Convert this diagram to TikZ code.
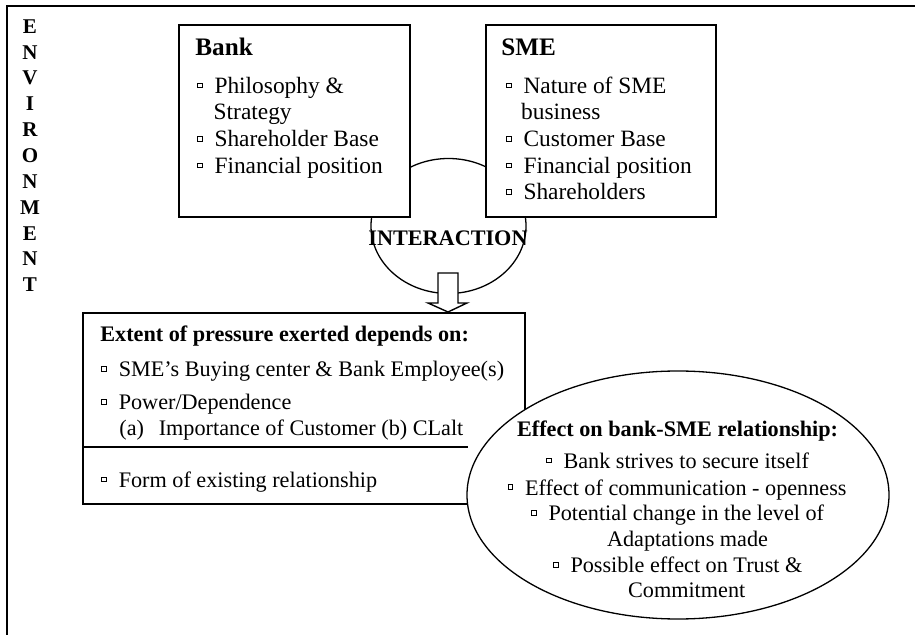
\documentclass[tikz,border=0pt]{standalone}
\usepackage{fontspec}
\setmainfont{Liberation Serif}
\usetikzlibrary{shapes.geometric,fit}
\newcommand\sqbul{\raisebox{3pt}{\fboxsep=0pt\fboxrule=0.4pt\fbox{\rule{0pt}{1.9pt}\hspace{1.9pt}}}\hspace{6pt}}
\begin{document}
\begin{tikzpicture}[x=0.5pt,y=-0.5pt,
  box/.style={draw, line width=0.9pt, fill=white, inner sep=0pt},
  oval/.style={draw, ellipse, line width=0.65pt, inner sep=0pt},
  txt/.style={anchor=base west, inner sep=0pt, font=\fontsize{11.7}{13.5}\selectfont},
  ltxt/.style={anchor=base west, inner sep=0pt, font=\fontsize{11.1}{13}\selectfont},
  lbold/.style={anchor=base west, inner sep=0pt, font=\fontsize{11.1}{13}\selectfont\bfseries},
  ttl/.style={anchor=base west, inner sep=0pt, font=\fontsize{12.6}{14}\selectfont\bfseries},
  envl/.style={anchor=base, inner sep=0pt, font=\fontsize{10.5}{12}\selectfont\bfseries}]
\useasboundingbox (0,0) rectangle (915,635);
% frame
\draw[line width=1pt] (7,650) -- (7,6) -- (930,6);
% ENVIRONMENT
\foreach \l [count=\i from 0] in {E,N,V,I,R,O,N,M,E,N,T}
  \node[envl] (env\i) at (30,33.3+25.84*\i) {\l};
% interaction oval
\node[oval, minimum width=77.5pt, minimum height=67.5pt] (inter) at (448.5,226) {};
% top boxes
\node[box, fit={(179,25) (410,217)}] (bank) {};
\node[box, fit={(486,25) (716,217)}] (sme) {};
\node[lbold, anchor=base] (intertxt) at (448,246) {INTERACTION};
% block arrow
\draw[line width=0.7pt, fill=white] (438,273) -- (458,273) -- (458,303) -- (467,303) -- (448,312) -- (428,303) -- (438,303) -- cycle;
% extent box
\node[box, fit={(83,313) (525,504)}] (extent) {};
\draw[line width=0.9pt] (extent.west |- 0,447) -- (468,447);
% effect oval
\node[oval, fill=white, minimum width=211pt, minimum height=124pt] (effect) at (678,495) {};
% Bank text
\node[ttl] (bankt) at (195,56) {Bank};
\node[txt] (b1) at (196.7,93.3) {\sqbul Philosophy \&};
\node[txt] (b1b) at (213.3,120) {Strategy};
\node[txt] (b2) at (196.7,146.7) {\sqbul Shareholder Base};
\node[txt] (b3) at (196.7,173.3) {\sqbul Financial position};
% SME text
\node[ttl] (smet) at (501,56) {SME};
\node[txt] (s1) at (505.7,93.3) {\sqbul Nature of SME};
\node[txt] (s1b) at (520.7,120) {business};
\node[txt] (s2) at (505.7,146.7) {\sqbul Customer Base};
\node[txt] (s3) at (505.7,173.3) {\sqbul Financial position};
\node[txt] (s4) at (505.7,200) {\sqbul Shareholders};
% extent text
\node[lbold] (et) at (100,342) {Extent of pressure exerted depends on:};
\node[ltxt] (e1) at (101,376.7) {\sqbul SME’s Buying center \& Bank Employee(s)};
\node[ltxt] (e2) at (101,410) {\sqbul Power/Dependence};
\node[ltxt] (e2b) at (119,436) {(a)\hspace{7.4pt}Importance of Customer (b) CLalt};
\node[ltxt] (e3) at (101,487.3) {\sqbul Form of existing relationship};
% effect text
\node[lbold] (eft) at (516.7,436.7) {Effect on bank-SME relationship:};
\node[ltxt] (f1) at (545.7,468.3) {\sqbul Bank strives to secure itself};
\node[ltxt] (f2) at (507.3,495) {\sqbul Effect of communication - openness};
\node[ltxt] (f3) at (530.7,520.7) {\sqbul Potential change in the level of};
\node[ltxt] (f3b) at (606.7,546) {Adaptations made};
\node[ltxt] (f4) at (552.7,572.7) {\sqbul Possible effect on Trust \&};
\node[ltxt] (f4b) at (627.7,597.3) {Commitment};
\end{tikzpicture}
\end{document}
